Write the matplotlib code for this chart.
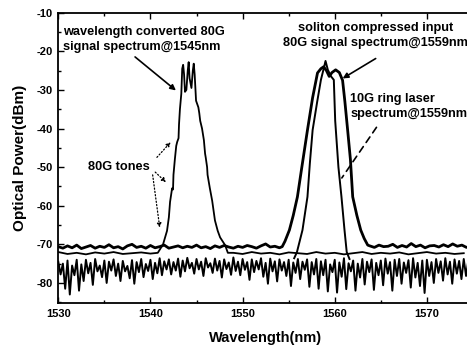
"""Optical spectra: wavelength converted 80G signal, soliton compressed input and 10G ring laser."""

import matplotlib

matplotlib.use("Agg")
import matplotlib.pyplot as plt
import numpy as np
from matplotlib.ticker import MultipleLocator

plt.rcParams["font.family"] = ["Liberation Sans", "DejaVu Sans"]
plt.rcParams["axes.unicode_minus"] = False

# --- data (wavelength nm, power dBm) -------------------------------------

# OSA noise floor under everything, sampled every 0.25 nm from 1530 nm
NOISE_START, NOISE_STEP = 1530.0, 0.25
noise_floor = [
    -74.5, -77.8, -75.0, -81.5, -74.2, -83.0, -75.5, -78.0, -74.0, -82.0,
    -75.2, -79.5, -74.0, -77.5, -74.8, -80.5, -73.8, -77.0, -75.5, -78.5,
    -74.2, -80.0, -74.5, -76.8, -73.9, -78.2, -75.0, -79.5, -74.3, -77.0,
    -75.6, -78.8, -74.1, -80.2, -74.6, -77.2, -73.8, -78.5, -75.1, -76.9,
    -74.0, -79.0, -74.8, -77.5, -73.6, -78.0, -74.4, -76.5, -73.9, -77.8,
    -74.6, -76.8, -73.7, -78.4, -74.2, -77.0, -73.5, -76.2, -74.8, -77.6,
    -73.8, -76.5, -74.5, -78.2, -73.6, -76.0, -74.9, -77.4, -73.7, -76.8,
    -74.3, -78.6, -73.9, -76.4, -74.7, -77.9, -73.4, -76.9, -74.5, -78.0,
    -73.8, -76.6, -74.6, -79.2, -73.9, -77.2, -74.3, -76.5, -73.6, -78.4,
    -74.8, -80.2, -73.7, -77.0, -74.4, -79.6, -73.9, -76.8, -74.6, -78.2,
    -74.0, -80.8, -74.7, -77.4, -73.8, -79.0, -74.5, -76.6, -73.9, -81.0,
    -74.6, -77.8, -73.8, -81.5, -74.4, -78.0, -74.0, -82.2, -75.2, -77.2,
    -74.0, -82.5, -74.7, -78.4, -73.6, -81.6, -74.9, -77.0, -74.2, -82.0,
    -75.0, -78.6, -73.8, -80.4, -74.5, -77.2, -73.9, -81.8, -74.8, -78.0,
    -74.2, -80.6, -73.7, -77.6, -74.6, -82.0, -74.0, -78.2, -73.8, -80.2,
    -74.7, -77.4, -74.1, -81.2, -73.6, -78.6, -74.8, -80.8, -74.2, -82.6,
    -74.0, -78.2, -74.6, -80.0, -73.8, -77.4, -74.4, -79.4, -73.6, -77.8,
    -74.5, -80.2, -73.9, -77.6, -74.3, -79.0, -73.8, -78.2, -74.1,
]

# wavelength converted 80G signal @1545nm
conv_floor_left_start, conv_floor_right_start, CONV_STEP = 1530.0, 1549.0, 1.0
conv_floor_left = [-72.0, -72.5, -72.2, -72.6, -72.1, -72.4, -72.0, -72.5, -72.3, -72.1, -72.4]
conv_floor_right = [
    -72.2, -72.5, -72.0, -72.4, -72.2, -72.6, -72.1, -72.3, -72.5, -72.0,
    -72.4, -72.2, -72.6, -72.3, -72.0, -72.5, -72.2, -72.4, -72.1, -72.6,
    -72.3, -72.0, -72.4, -72.2, -72.5, -72.3,
]
conv_peak_wl = [
    1540.8, 1541.37, 1541.8, 1542.0, 1542.13, 1542.35, 1542.45, 1542.5, 1542.65, 1542.8,
    1542.9, 1543.05, 1543.1, 1543.2, 1543.35, 1543.45, 1543.55, 1543.65, 1543.75, 1543.9,
    1544.05, 1544.15, 1544.25, 1544.45, 1544.6, 1544.7, 1544.8, 1544.95, 1545.2, 1545.3,
    1545.4, 1545.6, 1545.8, 1545.93, 1546.0, 1546.15, 1546.2, 1546.45, 1546.7, 1547.0,
    1547.3, 1547.56, 1548.1, 1548.4,
]
conv_peak_db = [
    -72.2, -70.0, -66.5, -63.0, -59.0, -55.5, -55.8, -52.0, -48.0, -44.5,
    -43.5, -42.5, -39.0, -35.0, -31.0, -24.5, -23.5, -26.0, -30.5, -30.0,
    -25.0, -22.8, -27.0, -29.5, -25.0, -23.2, -26.0, -32.8, -34.5, -36.0,
    -38.0, -40.0, -43.0, -46.5, -47.5, -50.0, -52.0, -55.5, -58.7, -63.8,
    -66.5, -68.2, -70.2, -72.2,
]

# soliton compressed input 80G signal @1559nm
sol_floor_left_start, sol_floor_right_start, SOL_STEP = 1530.0, 1563.8, 0.5
sol_floor_left = [
    -70.6, -71.0, -70.4, -70.9, -70.2, -71.1, -70.7, -70.3, -71.0, -70.5,
    -70.8, -70.1, -70.9, -70.6, -71.2, -70.4, -70.0, -70.8, -70.5, -71.0,
    -70.3, -70.9, -70.6, -70.2, -71.0, -70.7, -70.4, -70.9, -70.5, -70.8,
    -70.2, -70.9, -70.6, -71.1, -70.4, -70.8, -70.3, -70.7, -71.0, -70.5,
    -70.8, -70.3, -70.6, -71.0, -70.4, -69.9, -70.7, -70.5, -70.9,
]
sol_floor_right = [
    -70.4, -70.8, -70.2, -70.6, -70.5, -70.0, -70.8, -70.3, -70.7, -69.8,
    -70.6, -70.2, -70.9, -70.4, -70.3, -70.7, -70.1, -70.6, -69.9, -70.5,
    -70.2, -70.8, -70.4,
]
sol_peak_wl = [
    1554.3, 1554.6, 1555.08, 1555.5, 1555.95, 1556.38, 1557.04, 1557.6, 1558.13, 1558.5,
    1558.8, 1559.1, 1559.4, 1559.7, 1560.1, 1560.5, 1560.85, 1561.1, 1561.4, 1561.7,
    1561.95, 1562.4, 1562.82, 1563.2, 1563.58,
]
sol_peak_db = [
    -70.6, -69.2, -66.3, -62.5, -57.7, -50.8, -40.4, -32.0, -25.6, -24.5,
    -24.0, -25.0, -26.5, -25.5, -24.8, -25.5, -27.5, -33.0, -40.4, -48.0,
    -57.7, -62.5, -66.3, -68.5, -70.2,
]

# 10G ring laser spectrum @1559nm
ring_wl = [
    1555.6, 1555.9, 1556.5, 1557.04, 1557.3, 1557.6, 1558.1, 1558.5, 1558.8, 1559.0,
    1559.25, 1559.6, 1559.9, 1560.05, 1560.4, 1560.73, 1561.06, 1561.3, 1561.6,
]
ring_db = [
    -73.6, -72.0, -66.3, -57.7, -49.0, -40.4, -33.0, -27.4, -24.5, -22.5,
    -24.8, -26.5, -27.4, -38.0, -50.0, -57.7, -66.3, -72.0, -73.8,
]


def floor_wavelengths(start, step, values):
    return start + step * np.arange(len(values))


def main():
    fig = plt.figure(figsize=(4.67, 3.48), dpi=100)
    ax = fig.add_axes([0.1248, 0.1293, 0.886, 0.8342])

    noise_wl = floor_wavelengths(NOISE_START, NOISE_STEP, noise_floor)
    ax.plot(noise_wl, noise_floor, color="black", lw=1.4)

    conv_wl = np.concatenate([
        floor_wavelengths(conv_floor_left_start, CONV_STEP, conv_floor_left),
        conv_peak_wl,
        floor_wavelengths(conv_floor_right_start, CONV_STEP, conv_floor_right),
    ])
    conv_db = np.concatenate([conv_floor_left, conv_peak_db, conv_floor_right])
    ax.plot(conv_wl, conv_db, color="black", lw=1.3)

    sol_wl = np.concatenate([
        floor_wavelengths(sol_floor_left_start, SOL_STEP, sol_floor_left),
        sol_peak_wl,
        floor_wavelengths(sol_floor_right_start, SOL_STEP, sol_floor_right),
    ])
    sol_db = np.concatenate([sol_floor_left, sol_peak_db, sol_floor_right])
    ax.plot(sol_wl, sol_db, color="black", lw=2.0)

    ax.plot(ring_wl, ring_db, color="black", lw=1.4)

    ax.set_xlim(1530, 1574.9)
    ax.set_ylim(-85.2, -10)
    ax.xaxis.set_major_locator(MultipleLocator(10))
    ax.xaxis.set_minor_locator(MultipleLocator(5))
    ax.yaxis.set_major_locator(MultipleLocator(10))
    ax.yaxis.set_minor_locator(MultipleLocator(5))
    ax.tick_params(which="both", direction="in", top=True, right=False, width=1.0)
    ax.tick_params(which="major", length=4, labelsize=8, pad=4)
    ax.tick_params(which="minor", length=2)
    for lab in ax.get_xticklabels() + ax.get_yticklabels():
        lab.set_fontweight("bold")
    for side in ("left", "bottom", "top"):
        ax.spines[side].set_linewidth(1.3)
    ax.spines["right"].set_visible(False)

    ax.set_xlabel("Wavelength(nm)", fontsize=10.5, fontweight="bold", labelpad=9)
    ax.set_ylabel("Optical Power(dBm)", fontsize=11, fontweight="bold", labelpad=7)

    txt = dict(fontsize=9.2, fontweight="bold", color="black")
    ax.text(1530.5, -16.9, "wavelength converted 80G\nsignal spectrum@1545nm",
            ha="left", va="center", linespacing=1.3, **txt)
    ax.text(1564.4, -15.9, "soliton compressed input\n80G signal spectrum@1559nm",
            ha="center", va="center", multialignment="center", linespacing=1.3, **txt)
    ax.text(1561.7, -34.3, "10G ring laser\nspectrum@1559nm",
            ha="left", va="center", linespacing=1.3, **txt)
    ax.text(1533.2, -50.0, "80G tones", ha="left", va="center", **txt)

    solid = dict(arrowstyle="-|>", color="black", lw=1.2, mutation_scale=8)
    ax.annotate("", xy=(1543.0, -30.6), xytext=(1538.1, -21.0), arrowprops=solid)
    ax.annotate("", xy=(1560.6, -27.4), xytext=(1564.7, -21.5), arrowprops=solid)
    ax.annotate("", xy=(1560.6, -53.4), xytext=(1564.7, -39.1),
                arrowprops=dict(arrowstyle="-", color="black", lw=1.2, linestyle=(0, (4, 3))))

    dotted = dict(arrowstyle="-|>", color="black", lw=0.9, linestyle=":", mutation_scale=6)
    ax.annotate("", xy=(1542.4, -43.0), xytext=(1540.5, -48.0), arrowprops=dotted)
    ax.annotate("", xy=(1541.9, -54.4), xytext=(1540.3, -50.8), arrowprops=dotted)
    ax.annotate("", xy=(1541.05, -66.4), xytext=(1540.2, -51.3), arrowprops=dotted)

    fig.savefig("out.png", dpi=100)
    plt.close(fig)


if __name__ == "__main__":
    main()
